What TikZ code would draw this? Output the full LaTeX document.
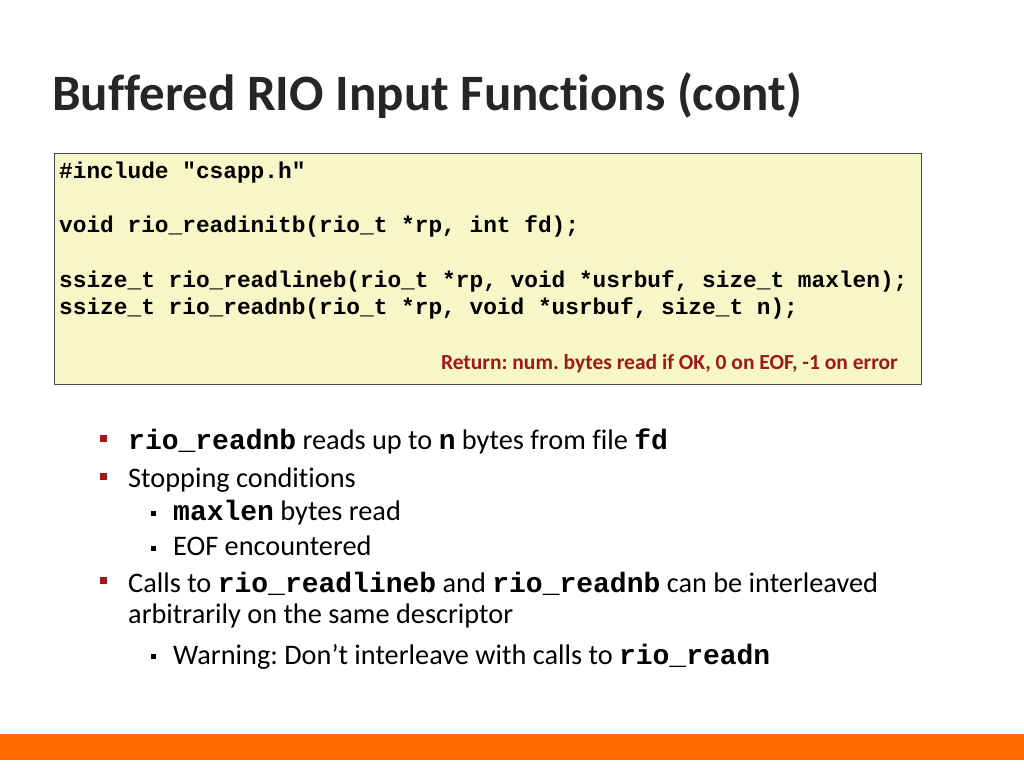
\documentclass[tikz,border=0pt]{standalone}
\usepackage{fontspec}
\setmainfont{Carlito}[Ligatures=NoCommon]
\setmonofont{Liberation Mono}
\frenchspacing
\definecolor{boxfill}{HTML}{F6F6C8}
\definecolor{retred}{HTML}{A01818}
\definecolor{bulred}{HTML}{A01818}
\definecolor{barorange}{HTML}{FF6A00}
\tikzset{
 code/.style={anchor=base west,inner sep=0pt,font=\fontsize{22.8}{22.8}\selectfont\ttfamily\bfseries},
 txt/.style={anchor=base west,inner sep=0pt,font=\fontsize{28.3}{28.3}\selectfont},
 bul/.style={fill=bulred,minimum size=7pt,inner sep=0pt},
 sbul/.style={fill=black,minimum size=5pt,inner sep=0pt}
}
\newcommand{\cw}[1]{{\fontsize{28}{28}\selectfont\ttfamily\bfseries #1}}
\begin{document}
\begin{tikzpicture}[x=1pt,y=-1pt]
\useasboundingbox (0,0) rectangle (1024,768);
\fill[white] (0,0) rectangle (1024,768);
\node[anchor=base west,inner sep=0pt,font=\fontsize{51}{51}\selectfont\bfseries,text=black!85] (title) at (52,110) {Buffered RIO Input Functions (cont)};
\node[draw=black!70,line width=1.2pt,fill=boxfill,minimum width=867pt,minimum height=231pt,anchor=north west] (box) at (54,153) {};
\node[code] (c1) at (59,178) {\#include "csapp.h"};
\node[code] (c2) at (59,232) {void rio\_readinitb(rio\_t *rp, int fd);};
\node[code] (c3) at (59,287) {ssize\_t rio\_readlineb(rio\_t *rp, void *usrbuf, size\_t maxlen);};
\node[code] (c4) at (59,314) {ssize\_t rio\_readnb(rio\_t *rp, void *usrbuf, size\_t n);};
\node[anchor=base east,inner sep=0pt,font=\fontsize{21.5}{21.5}\selectfont\bfseries,text=retred] (ret) at (898,369) {Return: num. bytes read if OK, 0 on EOF, -1 on error};
\node[bul] (b1) at (103,438) {};
\node[txt] (t1) at (128,449) {\cw{rio\_readnb} reads up to \cw{n} bytes from file \cw{fd}};
\node[bul] (b2) at (103,476) {};
\node[txt] (t2) at (128,487) {Stopping conditions};
\node[sbul] (s1) at (153,513) {};
\node[txt] (t3) at (173,520) {\cw{maxlen} bytes read};
\node[sbul] (s2) at (153,548) {};
\node[txt] (t4) at (173,555) {EOF encountered};
\node[bul] (b3) at (103,580) {};
\node[txt] (t5) at (128,592) {Calls to \cw{rio\_readlineb} and \cw{rio\_readnb} can be interleaved};
\node[txt] (t6) at (128,623) {arbitrarily on the same descriptor};
\node[sbul] (s3) at (153,656) {};
\node[txt] (t7) at (173,664) {Warning: Don’t interleave with calls to \cw{rio\_readn}};
\fill[barorange] (0,734) rectangle (1024,760);
\end{tikzpicture}
\end{document}
